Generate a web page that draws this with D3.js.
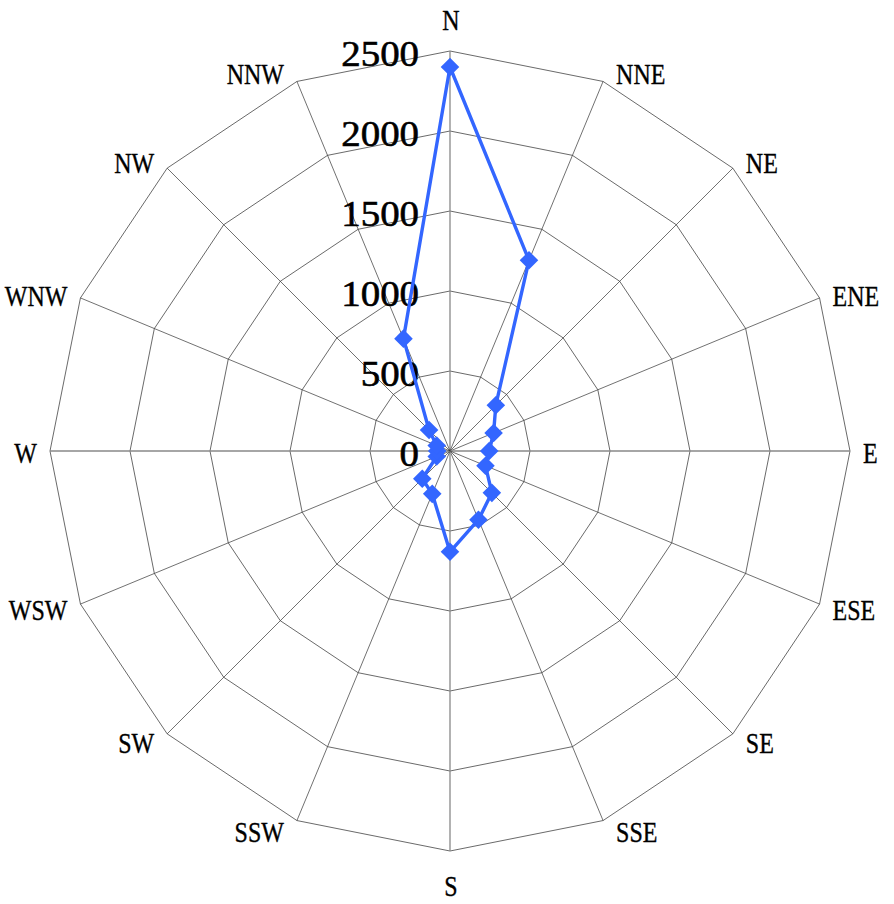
<!DOCTYPE html>
<html>
<head>
<meta charset="utf-8">
<script src="https://cdn.jsdelivr.net/npm/d3@7"></script>
<style>
body{margin:0;background:#fff;}
text{font-family:"Liberation Serif","Times New Roman",serif;fill:#000;stroke:#000;stroke-width:0.35;}
</style>
</head>
<body>
<script>
var directions=["N","NNE","NE","ENE","E","ESE","SE","SSE","S","SSW","SW","WSW","W","WNW","NW","NNW"];
var counts=[2400,1290,405,295,245,240,370,465,630,290,245,90,80,90,185,760];
var ticks=[0,500,1000,1500,2000,2500];

var width=894, height=904;
var cx=450, cy=451, radius=400;

var svg=d3.select("body").append("svg").attr("width",width).attr("height",height);
var g=svg.append("g").attr("transform","translate("+cx+","+cy+")");

var r=d3.scaleLinear().domain([0,2500]).range([0,radius]);
var angle=d3.scaleLinear().domain([0,directions.length]).range([0,2*Math.PI]);

function px(a,rad){return Math.sin(a)*rad;}
function py(a,rad){return -Math.cos(a)*rad;}

// rings
var ring=d3.lineRadial().angle(function(d,i){return angle(i);}).curve(d3.curveLinearClosed);
g.selectAll(".ring").data(ticks.slice(1)).enter().append("path")
	.attr("d",function(t){ring.radius(r(t)); return ring(directions.map(function(){return t;}));})
	.attr("fill","none").attr("stroke","#444").attr("stroke-width",0.8);

// spokes
g.selectAll(".spoke").data(directions).enter().append("line")
	.attr("x1",0).attr("y1",0)
	.attr("x2",function(d,i){return px(angle(i),radius);})
	.attr("y2",function(d,i){return py(angle(i),radius);})
	.attr("stroke",function(d,i){return i%4==0?"#888":"#333";})
	.attr("stroke-width",function(d,i){return i%4==0?1.3:0.7;});

// direction labels
g.selectAll(".dir").data(directions).enter().append("text")
	.attr("transform",function(d,i){
		var a=angle(i), vx=px(a,radius), vy=py(a,radius), x, y;
		if(i==0){x=vx+1;y=vy-31;}
		else if(i==8){x=vx+1;y=vy+35;}
		else{
			var side=i<8?1:-1;
			x=vx+side*13;
			y=vy-Math.cos(a)*10+2;
		}
		return "translate("+x+","+y+") scale(0.8,1)";
	})
	.attr("text-anchor",function(d,i){return (i==0||i==8)?"middle":(i<8?"start":"end");})
	.attr("dominant-baseline","central")
	.style("font-size","30px")
	.text(function(d){return d;});

// tick labels
g.selectAll(".tick").data(ticks).enter().append("text")
	.attr("transform",function(t){return "translate(-31,"+(-r(t)+3)+") scale(1.08,1)";})
	.attr("text-anchor","end")
	.attr("dominant-baseline","central")
	.style("font-size","36px")
	.style("stroke-width","0.6")
	.text(function(t){return t;});

// data series
var line=d3.lineRadial()
	.angle(function(d,i){return angle(i);})
	.radius(function(d){return r(d);})
	.curve(d3.curveLinearClosed);

g.append("path").datum(counts)
	.attr("d",line)
	.attr("fill","none").attr("stroke","#3366ff").attr("stroke-width",3.4)
	.attr("stroke-linejoin","round");

var diamond=d3.symbol().type(d3.symbolDiamond2).size(220);
g.selectAll(".pt").data(counts).enter().append("path")
	.attr("d",diamond)
	.attr("transform",function(d,i){return "translate("+px(angle(i),r(d))+","+py(angle(i),r(d))+")";})
	.attr("fill","#3366ff");
</script>
</body>
</html>
